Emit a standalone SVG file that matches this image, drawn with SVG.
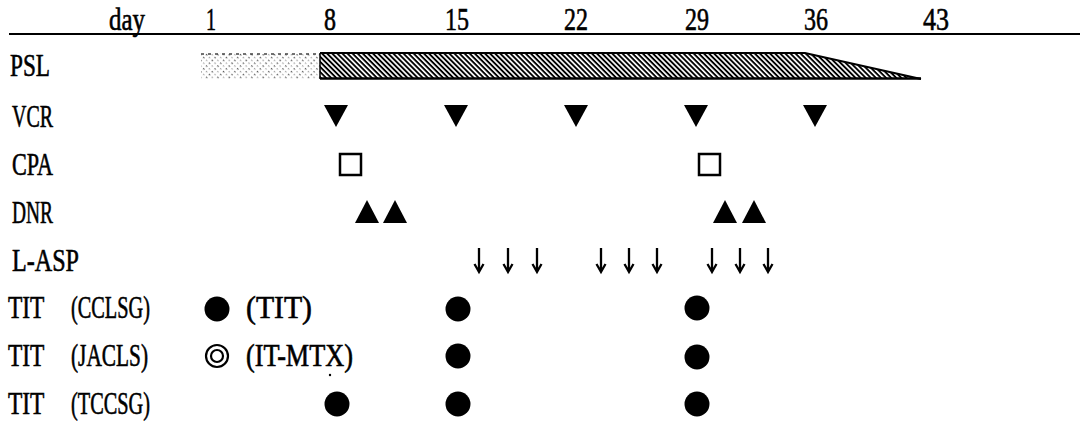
<svg xmlns="http://www.w3.org/2000/svg" width="1080" height="422" viewBox="0 0 1080 422">
  <style>
    text { font-family: "Liberation Serif", "DejaVu Serif", serif; font-size: 31px; fill: #000; stroke: #000; stroke-width: 0.6; }
    .vcr, .dnr, .dot { fill: #000; stroke: none; }
    .cpa { fill: #fff; stroke: #000; stroke-width: 2.5; }
    .ring { fill: none; stroke: #000; stroke-width: 2.2; }
    .asp { fill: none; stroke: #000; stroke-width: 2.3; stroke-linejoin: miter; }
  </style>
  <defs>
    <!-- dense diagonal hatch for the main PSL course -->
    <pattern id="hatch" patternUnits="userSpaceOnUse" width="8" height="3.6" patternTransform="rotate(45)">
      <rect x="0" y="0" width="8" height="1.9" fill="#000"/>
    </pattern>
    <!-- sparse speckled hatch for the first week -->
    <pattern id="speckle" patternUnits="userSpaceOnUse" width="8" height="4" patternTransform="rotate(45)">
      <rect x="0" y="0" width="1.6" height="1.2" fill="#555"/>
      <rect x="4.2" y="0" width="1.2" height="1.2" fill="#888"/>
    </pattern>
  </defs>

  <!-- time axis -->
  <g id="axis">
    <line x1="9" y1="34" x2="1080" y2="34" stroke="#000" stroke-width="2"/>
    <text x="109" y="30" textLength="36" lengthAdjust="spacingAndGlyphs">day</text>
    <text x="206" y="30" textLength="10" lengthAdjust="spacingAndGlyphs">1</text>
    <text x="324" y="30" textLength="12" lengthAdjust="spacingAndGlyphs">8</text>
    <text x="445" y="30" textLength="24" lengthAdjust="spacingAndGlyphs">15</text>
    <text x="564" y="30" textLength="24" lengthAdjust="spacingAndGlyphs">22</text>
    <text x="685" y="30" textLength="24" lengthAdjust="spacingAndGlyphs">29</text>
    <text x="804" y="30" textLength="24" lengthAdjust="spacingAndGlyphs">36</text>
    <text x="923" y="30" textLength="26" lengthAdjust="spacingAndGlyphs">43</text>
  </g>

  <!-- row labels -->
  <g id="labels">
    <text x="10" y="76" textLength="40" lengthAdjust="spacingAndGlyphs">PSL</text>
    <text x="12" y="127" textLength="41" lengthAdjust="spacingAndGlyphs">VCR</text>
    <text x="12" y="175" textLength="41" lengthAdjust="spacingAndGlyphs">CPA</text>
    <text x="12" y="223" textLength="41" lengthAdjust="spacingAndGlyphs">DNR</text>
    <text x="12" y="271" textLength="67" lengthAdjust="spacingAndGlyphs">L-ASP</text>
    <text x="8" y="318"><tspan textLength="36" lengthAdjust="spacingAndGlyphs">TIT</tspan> <tspan x="71" textLength="79" lengthAdjust="spacingAndGlyphs">(CCLSG)</tspan></text>
    <text x="8" y="366"><tspan textLength="36" lengthAdjust="spacingAndGlyphs">TIT</tspan> <tspan x="71" textLength="77" lengthAdjust="spacingAndGlyphs">(JACLS)</tspan></text>
    <text x="8" y="414"><tspan textLength="36" lengthAdjust="spacingAndGlyphs">TIT</tspan> <tspan x="71" textLength="79" lengthAdjust="spacingAndGlyphs">(TCCSG)</tspan></text>
  </g>

  <!-- PSL course: first week, then full dose tapering after day 36 -->
  <g id="psl">
    <rect x="201" y="53" width="119" height="26" fill="url(#speckle)"/>
    <line x1="201" y1="54" x2="320" y2="54" stroke="#444" stroke-width="1.5" stroke-dasharray="3 4"/>
    <path d="M320,53 L805,53 L921,79 L320,79 Z" fill="url(#hatch)"/>
    <path d="M320,53 L805,53 L921,79" fill="none" stroke="#000" stroke-width="2"/>
    <line x1="320" y1="78.5" x2="921" y2="78.5" stroke="#000" stroke-width="2.5"/>
    <line x1="320" y1="53" x2="320" y2="79" stroke="#000" stroke-width="1.5"/>
  </g>

  <!-- VCR doses -->
  <g id="vcr">
    <polygon class="vcr" points="324,105 348,105 336,127"/>
    <polygon class="vcr" points="444,105 468,105 456,127"/>
    <polygon class="vcr" points="564,105 588,105 576,127"/>
    <polygon class="vcr" points="684,105 708,105 696,127"/>
    <polygon class="vcr" points="803,105 827,105 815,127"/>
  </g>

  <!-- CPA doses -->
  <g id="cpa">
    <rect class="cpa" x="340" y="154" width="21" height="21"/>
    <rect class="cpa" x="699" y="154" width="21" height="21"/>
  </g>

  <!-- DNR doses -->
  <g id="dnr">
    <polygon class="dnr" points="355,223 379,223 367,200"/>
    <polygon class="dnr" points="383,223 407,223 395,200"/>
    <polygon class="dnr" points="713,223 737,223 725,200"/>
    <polygon class="dnr" points="742,223 766,223 754,200"/>
  </g>

  <!-- L-ASP doses -->
  <g id="lasp">
    <path class="asp" d="M479,248 V271 M474.5,264 L479,272 L483.5,264"/>
    <path class="asp" d="M508,248 V271 M503.5,264 L508,272 L512.5,264"/>
    <path class="asp" d="M537,248 V271 M532.5,264 L537,272 L541.5,264"/>
    <path class="asp" d="M601,248 V271 M596.5,264 L601,272 L605.5,264"/>
    <path class="asp" d="M629,248 V271 M624.5,264 L629,272 L633.5,264"/>
    <path class="asp" d="M657,248 V271 M652.5,264 L657,272 L661.5,264"/>
    <path class="asp" d="M712,248 V271 M707.5,264 L712,272 L716.5,264"/>
    <path class="asp" d="M740,248 V271 M735.5,264 L740,272 L744.5,264"/>
    <path class="asp" d="M768,248 V271 M763.5,264 L768,272 L772.5,264"/>
  </g>

  <!-- intrathecal therapy, CCLSG -->
  <g id="tit-cclsg">
    <circle class="dot" cx="217" cy="309" r="12.5"/>
    <text x="246" y="318" textLength="66" lengthAdjust="spacingAndGlyphs">(TIT)</text>
    <circle class="dot" cx="458" cy="309" r="12.5"/>
    <circle class="dot" cx="697" cy="308" r="12.5"/>
  </g>

  <!-- intrathecal therapy, JACLS -->
  <g id="tit-jacls">
    <circle class="ring" cx="217" cy="356" r="11"/>
    <circle class="ring" cx="217" cy="356" r="6"/>
    <text x="246" y="366" textLength="107" lengthAdjust="spacingAndGlyphs">(IT-MTX)</text>
    <circle class="dot" cx="330" cy="375" r="1.2"/>
    <circle class="dot" cx="458" cy="356" r="12.5"/>
    <circle class="dot" cx="697" cy="357" r="12.5"/>
  </g>

  <!-- intrathecal therapy, TCCSG -->
  <g id="tit-tccsg">
    <circle class="dot" cx="337" cy="404" r="12.5"/>
    <circle class="dot" cx="458" cy="404" r="12.5"/>
    <circle class="dot" cx="697" cy="404" r="12.5"/>
  </g>
</svg>
